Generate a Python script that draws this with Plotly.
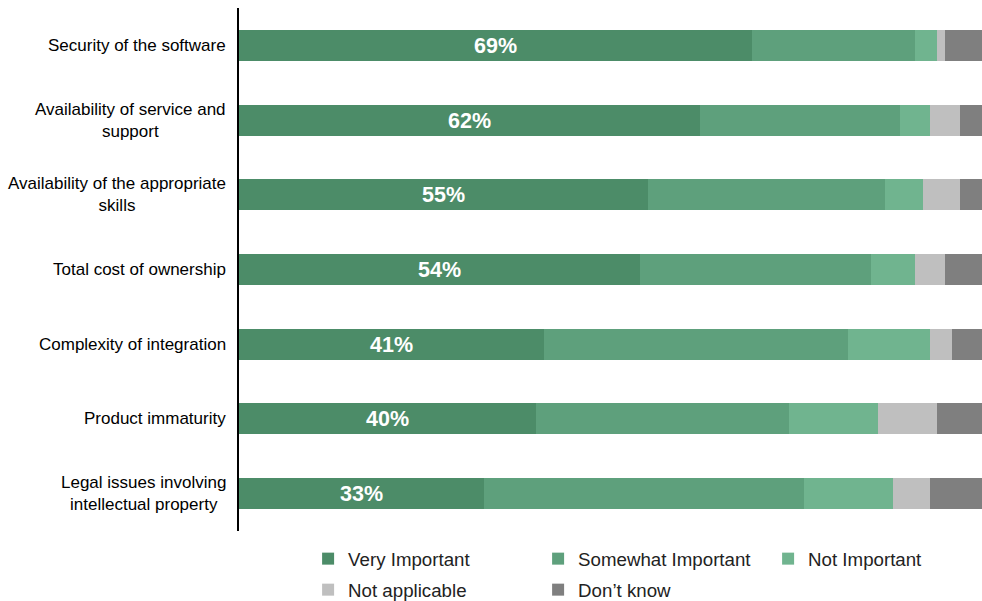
import plotly.graph_objects as go

categories = [
    "Security of the software",
    "Availability of service and<br>support",
    "Availability of the appropriate<br>skills",
    "Total cost of ownership",
    "Complexity of integration",
    "Product immaturity",
    "Legal issues involving<br>intellectual property",
]
very_important = [69, 62, 55, 54, 41, 40, 33]
somewhat_important = [22, 27, 32, 31, 41, 34, 43]
not_important = [3, 4, 5, 6, 11, 12, 12]
not_applicable = [1, 4, 5, 4, 3, 8, 5]
dont_know = [5, 3, 3, 5, 4, 6, 7]

series = [
    ("Very Important", very_important, "#4C8C68", "legend"),
    ("Somewhat Important", somewhat_important, "#5EA07C", "legend"),
    ("Not Important", not_important, "#70B48F", "legend"),
    ("Not applicable", not_applicable, "#BFBFBF", "legend2"),
    ("Don\u2019t know", dont_know, "#7F7F7F", "legend2"),
]

FONT = "Liberation Sans, Arial, sans-serif"

fig = go.Figure()
for i, (name, vals, color, lg) in enumerate(series):
    if i == 0:
        kw = dict(
            text=[f"{v}%" for v in vals],
            textposition="inside",
            insidetextanchor="middle",
            textfont=dict(color="white", size=21.5, family=FONT, weight="bold"),
            constraintext="none",
        )
    else:
        kw = dict(textposition="none")
    fig.add_trace(go.Bar(
        y=categories, x=vals, name=name, orientation="h",
        marker=dict(color=color, line=dict(width=0)),
        width=0.415, legend=lg, **kw,
    ))

for cat in categories:
    fig.add_annotation(
        x=0, xref="paper", y=cat, yref="y", text=cat, showarrow=False,
        xanchor="right", yanchor="middle", align="center", xshift=-11,
        font=dict(size=17, color="black", family=FONT),
    )

legend_common = dict(
    orientation="h", xanchor="left", yanchor="middle",
    entrywidth=185, entrywidthmode="pixels", traceorder="normal",
    font=dict(size=18.7, family=FONT, color="#222222"),
    itemwidth=30, bgcolor="rgba(0,0,0,0)",
)

fig.update_layout(
    width=982, height=601,
    autosize=False,
    barmode="stack",
    bargap=0,
    plot_bgcolor="white", paper_bgcolor="white",
    margin=dict(l=239, r=0, t=8, b=70, autoexpand=False),
    font=dict(family=FONT, color="black"),
    showlegend=True,
    legend=dict(x=0.093, y=-0.0535, **legend_common),
    legend2=dict(x=0.093, y=-0.1128, **legend_common),
    xaxis=dict(range=[0, 100], showgrid=False, showticklabels=False, zeroline=False,
               showline=False, fixedrange=True),
    yaxis=dict(autorange="reversed", showticklabels=False, showgrid=False,
               showline=True, linecolor="black", linewidth=2, ticks="", zeroline=False),
)

fig.write_html(
    "out.html",
    config={"responsive": False, "displayModeBar": False},
    post_script="document.body.style.margin='0';document.body.style.overflow='hidden';",
)
